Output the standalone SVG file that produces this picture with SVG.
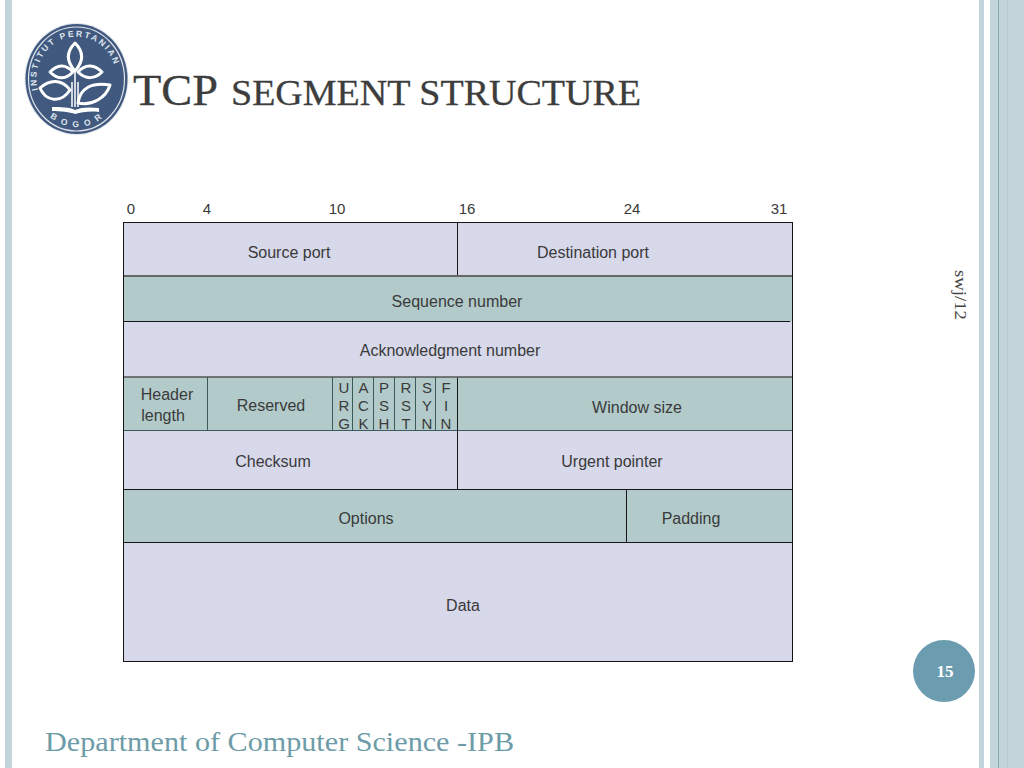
<svg xmlns="http://www.w3.org/2000/svg" width="1024" height="768" viewBox="0 0 1024 768">
<style>
.f{font-family:"Liberation Sans",Arial,sans-serif;font-size:16px;fill:#3a3a3a;text-anchor:middle}
.s{font-family:"Liberation Serif","Times New Roman",serif}
.a{fill:#d7d8ea}
.b{fill:#b2cbca}
.l{stroke:#151515;stroke-width:1;fill:none}
.g{stroke:#666;stroke-width:2;fill:none}
.q{stroke:#3c5a5a;stroke-width:1;fill:none}
.lf{fill:none;stroke:#fff;stroke-width:3;stroke-linejoin:round}
.lt{font-family:"Liberation Sans",Arial,sans-serif;font-size:8.5px;font-weight:bold;fill:#dfe5ee;letter-spacing:2.1px}
.c{font-size:15px}
</style>
<defs>
<path id="arcTop" d="M 38 90 A 40 42 0 1 1 115 90"/>
<path id="arcBot" d="M 43 110 A 44 48 0 0 0 110 110"/>
</defs>
<rect width="1024" height="768" fill="#fff"/>
<g id="background">
<rect x="5" y="0" width="7" height="768" fill="#c3d5da"/>
<rect x="979" y="0" width="5" height="768" fill="#c3d5da"/>
<rect x="990" y="0" width="34" height="768" fill="#c3d5da"/>
<rect x="998" y="0" width="1" height="768" fill="#83a9ad"/>
<rect x="1007" y="0" width="1" height="768" fill="#b4cacf"/>
</g>
<g id="logo">
<ellipse cx="76.5" cy="79" rx="52" ry="56" fill="#dfe4ec"/>
<ellipse cx="76.5" cy="79" rx="51" ry="55" fill="#41597f"/>
<ellipse cx="76.5" cy="79" rx="48" ry="52" fill="none" stroke="#dfe4ec" stroke-width="1.2"/>
<text class="lt"><textPath href="#arcTop">INSTITUT PERTANIAN</textPath></text>
<text class="lt" style="letter-spacing:6px"><textPath href="#arcBot" startOffset="10">BOGOR</textPath></text>
<path class="lf" d="M75 43C66 52 66 61 75 71C84 61 84 52 75 43Z"/>
<path class="lf" d="M73 72C65 63 57 65 50 72C57 79 65 80 73 72Z"/>
<path class="lf" d="M78 72C86 63 95 65 102 72C95 79 86 80 78 72Z"/>
<path class="lf" d="M70 90C62 79 50 79 40 88C45 100 60 105 70 90Z"/>
<path class="lf" d="M78 103C80 88 92 82 110 85C106 98 92 106 78 103Z"/>
<path d="M72 82V107M75 72V107M78 82V107" fill="none" stroke="#fff" stroke-width="1.5"/>
<path d="M52 107C60 107 70 107 75 110C81 107 90 107 99 108V112C90 111 82 112 75 114C70 112 60 111 52 111Z" fill="#fff"/>
</g>
<g id="title">
<text class="s" x="133" y="105" font-size="45" fill="#3d3d3d" stroke="#3d3d3d" stroke-width="0.3" textLength="85" lengthAdjust="spacingAndGlyphs">TCP</text>
<text class="s" x="231" y="105" font-size="36" fill="#3d3d3d" stroke="#3d3d3d" stroke-width="0.3" textLength="410" lengthAdjust="spacingAndGlyphs">SEGMENT STRUCTURE</text>
</g>
<g id="bit-labels">
<text class="f c" x="131" y="214">0</text>
<text class="f c" x="207" y="214">4</text>
<text class="f c" x="337" y="214">10</text>
<text class="f c" x="467" y="214">16</text>
<text class="f c" x="632" y="214">24</text>
<text class="f c" x="779" y="214">31</text>
</g>
<g id="rows">
<rect id="row-ports" class="a" x="124" y="223" width="668" height="53"/>
<rect id="row-seq" class="b" x="124" y="276" width="668" height="46"/>
<rect id="row-ack" class="a" x="124" y="322" width="668" height="55"/>
<rect id="row-flags" class="b" x="124" y="377" width="668" height="54"/>
<rect id="row-check" class="a" x="124" y="431" width="668" height="58"/>
<rect id="row-options" class="b" x="124" y="489" width="668" height="54"/>
<rect id="row-data" class="a" x="124" y="543" width="668" height="118"/>
</g>
<g id="connectors">
<rect class="l" x="123.5" y="222.5" width="669" height="439"/>
<path class="g" d="M124 276H792"/>
<path class="l" d="M124 321.5H790M124 489.5H792M124 542.5H792M457.5 223V275M457.5 431V489M626.5 489V543"/>
<path class="g" d="M124 377H792" style="stroke:#555;stroke-width:1.5"/>
<path class="q" d="M124 430.5H792M207.5 377V431M332.5 377V431M352.5 377V431M373.5 377V431M394.5 377V431M415.5 377V431M435.5 377V431"/>
<path class="l" d="M457.5 378V431"/>
</g>
<g id="cell-labels">
<text class="f" x="289" y="258">Source port</text>
<text class="f" x="593" y="258">Destination port</text>
<text class="f" x="457" y="307">Sequence number</text>
<text class="f" x="450" y="356">Acknowledgment number</text>
<text class="f" x="167" y="400">Header</text>
<text class="f" x="163" y="421">length</text>
<text class="f" x="271" y="411">Reserved</text>
<text class="f c" x="344" y="393">U</text><text class="f c" x="344" y="411">R</text><text class="f c" x="344" y="429">G</text>
<text class="f c" x="363.500" y="393">A</text><text class="f c" x="363.500" y="411">C</text><text class="f c" x="363.500" y="429">K</text>
<text class="f c" x="384" y="393">P</text><text class="f c" x="384" y="411">S</text><text class="f c" x="384" y="429">H</text>
<text class="f c" x="406" y="393">R</text><text class="f c" x="406" y="411">S</text><text class="f c" x="406" y="429">T</text>
<text class="f c" x="427" y="393">S</text><text class="f c" x="427" y="411">Y</text><text class="f c" x="427" y="429">N</text>
<text class="f c" x="446" y="393">F</text><text class="f c" x="446" y="411">I</text><text class="f c" x="446" y="429">N</text>
<text class="f" x="637" y="413">Window size</text>
<text class="f" x="273" y="467">Checksum</text>
<text class="f" x="612" y="467">Urgent pointer</text>
<text class="f" x="366" y="524">Options</text>
<text class="f" x="691" y="524">Padding</text>
<text class="f" x="463" y="611">Data</text>
</g>
<g id="side-note">
<text class="s" transform="translate(955 270) rotate(90)" font-size="16.5" fill="#444" textLength="50" lengthAdjust="spacingAndGlyphs">swj/12</text>
</g>
<g id="page-number">
<circle cx="944" cy="671" r="31" fill="#6b9cb0"/>
<text class="s" x="945" y="677" font-size="17" font-weight="bold" fill="#fff" text-anchor="middle">15</text>
</g>
<g id="footer">
<text class="s" x="45" y="751" font-size="28" fill="#6d9ca8" textLength="469" lengthAdjust="spacingAndGlyphs">Department of Computer Science -IPB</text>
</g>
</svg>
